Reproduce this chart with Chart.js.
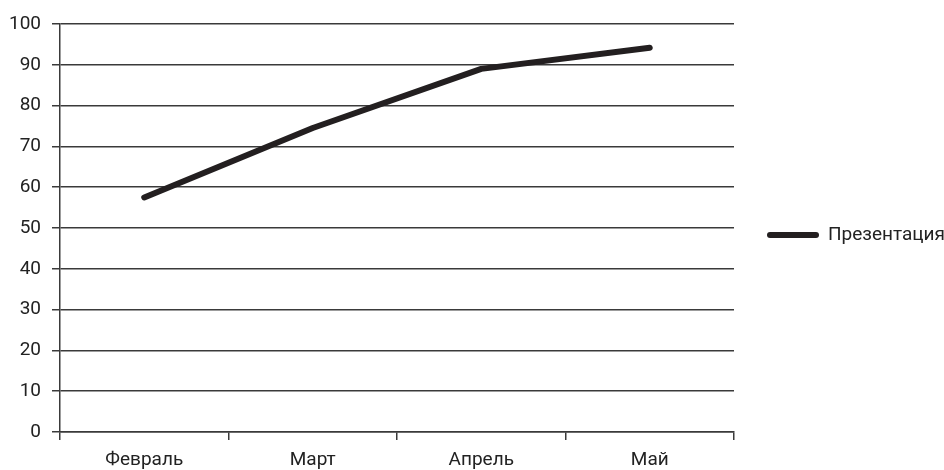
<!DOCTYPE html>
<html>
<head>
<meta charset="utf-8">
<script src="https://cdn.jsdelivr.net/npm/chart.js@4/dist/chart.umd.min.js"></script>
<style>
  html, body { margin: 0; padding: 0; background: #fff; }
  #wrap { width: 944px; height: 470px; position: relative; }
</style>
</head>
<body>
<div id="wrap"><canvas id="c"></canvas></div>
<script>
const months = ['Февраль', 'Март', 'Апрель', 'Май'];
const presentation = [57.5, 74.5, 89, 94.2];
const seriesName = 'Презентация';
const yTicks = [0, 10, 20, 30, 40, 50, 60, 70, 80, 90, 100];

const FONT = 'Roboto';
const INK = '#231f20';
const GRID = '#3a3a3a';

// Legend to the right of the plot: thick line sample followed by the series name
const sideLegend = {
  id: 'sideLegend',
  afterDraw(chart) {
    const ctx = chart.ctx;
    const ds = chart.data.datasets[0];
    const y = (chart.chartArea.top + chart.chartArea.bottom) / 2 + 7;
    ctx.save();
    ctx.strokeStyle = ds.borderColor;
    ctx.lineWidth = ds.borderWidth;
    ctx.lineCap = 'round';
    ctx.beginPath();
    ctx.moveTo(770, y);
    ctx.lineTo(816, y);
    ctx.stroke();
    ctx.fillStyle = '#222';
    ctx.font = '19px ' + FONT;
    ctx.textBaseline = 'middle';
    ctx.fillText(ds.label, 828, y);
    ctx.restore();
  }
};

new Chart(document.getElementById('c'), {
  type: 'line',
  data: {
    labels: months,
    datasets: [{
      label: seriesName,
      data: presentation,
      borderColor: INK,
      borderWidth: 6,
      borderCapStyle: 'round',
      borderJoinStyle: 'round',
      pointRadius: 0,
      tension: 0,
      fill: false
    }]
  },
  options: {
    responsive: true,
    maintainAspectRatio: false,
    animation: false,
    layout: { padding: { left: 0, right: 210, top: 24, bottom: 0 } },
    plugins: { legend: { display: false }, tooltip: { enabled: false } },
    scales: {
      x: {
        offset: true,
        grid: {
          offset: true,
          drawOnChartArea: false,
          drawTicks: true,
          tickLength: 8,
          color: GRID,
          lineWidth: 1.5
        },
        border: { color: GRID, width: 1.5 },
        ticks: { color: '#222', font: { family: FONT, size: 19 }, padding: 9 },
        afterFit(s) { s.height = 38; }
      },
      y: {
        min: 0,
        max: 100,
        afterBuildTicks(s) { s.ticks = yTicks.map(v => ({ value: v })); },
        grid: { color: GRID, lineWidth: 1.5, tickLength: 8 },
        border: { color: GRID, width: 1.5 },
        ticks: { color: '#222', font: { family: FONT, size: 19 }, padding: 11 },
        afterFit(s) { s.width = 60; }
      }
    }
  },
  plugins: [sideLegend]
});
</script>
</body>
</html>
